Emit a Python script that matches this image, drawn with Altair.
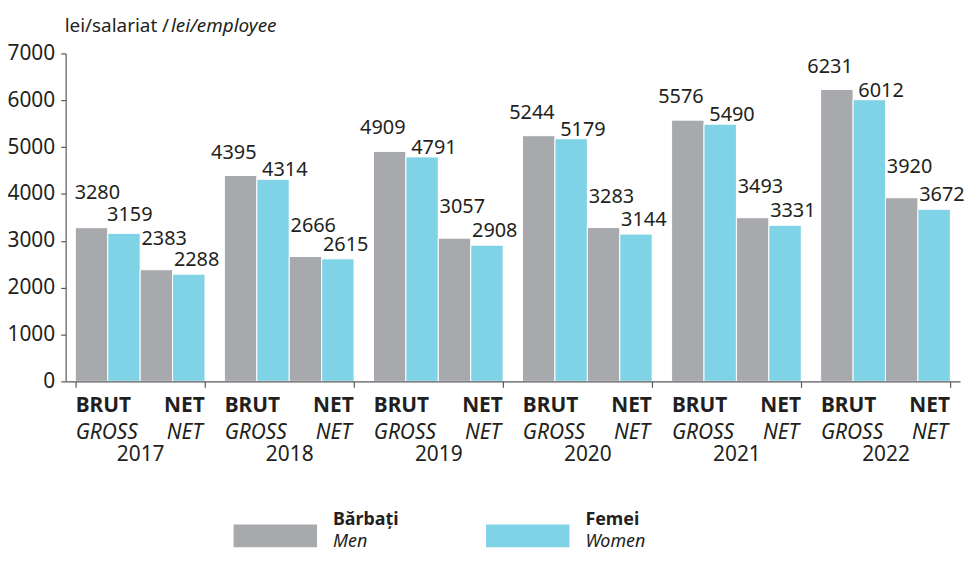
import altair as alt
import pandas as pd

# ---- data ----
years = ["2017", "2018", "2019", "2020", "2021", "2022"]
brut_men = [3280, 4395, 4909, 5244, 5576, 6231]
brut_women = [3159, 4314, 4791, 5179, 5490, 6012]
net_men = [2383, 2666, 3057, 3283, 3493, 3920]
net_women = [2288, 2615, 2908, 3144, 3331, 3672]

series_keys = ["BRUT-M", "BRUT-F", "NET-M", "NET-F"]
sex_ro = ["Bărbați", "Femei"]
sex_en = ["Men", "Women"]
colors = ["#A7A9AC", "#80D3E6"]
y_ticks = [0, 1000, 2000, 3000, 4000, 5000, 6000, 7000]

TXT = "#231F20"
AX = "#58595B"
FONT = "Noto Sans"

rows = []
for i, yr in enumerate(years):
    for key, vals, sex in [("BRUT-M", brut_men, sex_ro[0]), ("BRUT-F", brut_women, sex_ro[1]),
                           ("NET-M", net_men, sex_ro[0]), ("NET-F", net_women, sex_ro[1])]:
        rows.append({"year": yr, "key": key, "sex": sex, "value": vals[i]})
df = pd.DataFrame(rows)

x = alt.X("year:N", sort=years,
          scale=alt.Scale(paddingInner=0.13, paddingOuter=0.065),
          axis=alt.Axis(title=None, labelAngle=0, labelFontSize=21, labelFont=FONT,
                        labelColor=TXT, labelBaseline="alphabetic", labelPadding=74,
                        tickSize=6, tickBand="extent", domainColor=AX, tickColor=AX,
                        domainWidth=1.2, tickWidth=1.2, zindex=1))
xo = alt.XOffset("key:N", sort=series_keys,
                 scale=alt.Scale(domain=series_keys, paddingInner=0, paddingOuter=0))
y = alt.Y("value:Q", scale=alt.Scale(domain=[0, 7000], nice=False),
          axis=alt.Axis(title=None, values=y_ticks, format="d", grid=False,
                        labelFontSize=21, labelFont=FONT, labelColor=TXT,
                        tickSize=5, labelPadding=6, domainColor=AX, tickColor=AX,
                        domainWidth=1.2, tickWidth=1.2, zindex=1))

bars = alt.Chart(df).mark_bar(stroke="white", strokeWidth=1).encode(
    x=x, xOffset=xo, y=y,
    color=alt.Color("sex:N", scale=alt.Scale(domain=sex_ro, range=colors), legend=None),
)


def vlabel(expr, align, dx, dy):
    return alt.Chart(df).transform_filter(expr).mark_text(
        align=align, baseline="alphabetic", dx=dx, dy=dy, fontSize=20, font=FONT, color=TXT
    ).encode(x=x, xOffset=xo, y=y, text=alt.Text("value:Q", format="d"))


labels = [
    vlabel("datum.key == 'BRUT-M' && datum.year != '2017'", "right", 16, -17),
    vlabel("datum.key == 'BRUT-M' && datum.year == '2017'", "left", -17, -29),
    vlabel("datum.key == 'BRUT-F' && datum.year != '2017'", "left", -11, -3),
    vlabel("datum.key == 'BRUT-F' && datum.year == '2017'", "left", -17, -12),
    vlabel("datum.key == 'NET-M'", "left", -15, -25),
    vlabel("datum.key == 'NET-F'", "left", -15, -8),
]


def xlabel(key, txt, align, dx, ypos, weight, style):
    return alt.Chart(df).transform_filter(f"datum.key == '{key}'").mark_text(
        text=txt, align=align, baseline="alphabetic", dx=dx, fontSize=21, font=FONT,
        fontWeight=weight, fontStyle=style, color=TXT
    ).encode(x=x, xOffset=xo, y=alt.value(ypos))


xlabels = [
    xlabel("BRUT-M", "BRUT", "left", -16, 361, "bold", "normal"),
    xlabel("NET-F", "NET", "right", 16, 361, "bold", "normal"),
    xlabel("BRUT-M", "GROSS", "left", -16, 388, "normal", "italic"),
    xlabel("NET-F", "NET", "right", 14, 388, "normal", "italic"),
]

one = alt.Data(values=[{"a": 1}])


def note(txt, xpos, ypos, size, weight="normal", style="normal"):
    return alt.Chart(one).mark_text(
        text=txt, align="left", baseline="alphabetic", fontSize=size, font=FONT,
        fontWeight=weight, fontStyle=style, color=TXT
    ).encode(x=alt.value(xpos), y=alt.value(ypos))


title = [
    note("lei/salariat / ", -1, -22, 19),
    note("lei/employee", 106, -22, 19, style="italic"),
]

legend = []
leg_x0 = 169
leg_step = 254
for i in range(2):
    lx = leg_x0 + i * leg_step
    legend.append(alt.Chart(one).mark_rect(color=colors[i]).encode(
        x=alt.value(lx), x2=alt.value(lx + 84), y=alt.value(474), y2=alt.value(497)))
    legend.append(note(sex_ro[i], lx + 100, 475, 18, weight="bold"))
    legend.append(note(sex_en[i], lx + 100, 497, 18, style="italic"))

chart = alt.layer(bars, *labels, *xlabels, *title, *legend).properties(
    width=900, height=330,
    autosize=alt.AutoSizeParams(type="none"),
    padding={"left": 58, "top": 44, "right": 4, "bottom": 171},
).configure_view(stroke=None)

chart.save("out.html", embed_options={"renderer": "svg", "actions": False})
